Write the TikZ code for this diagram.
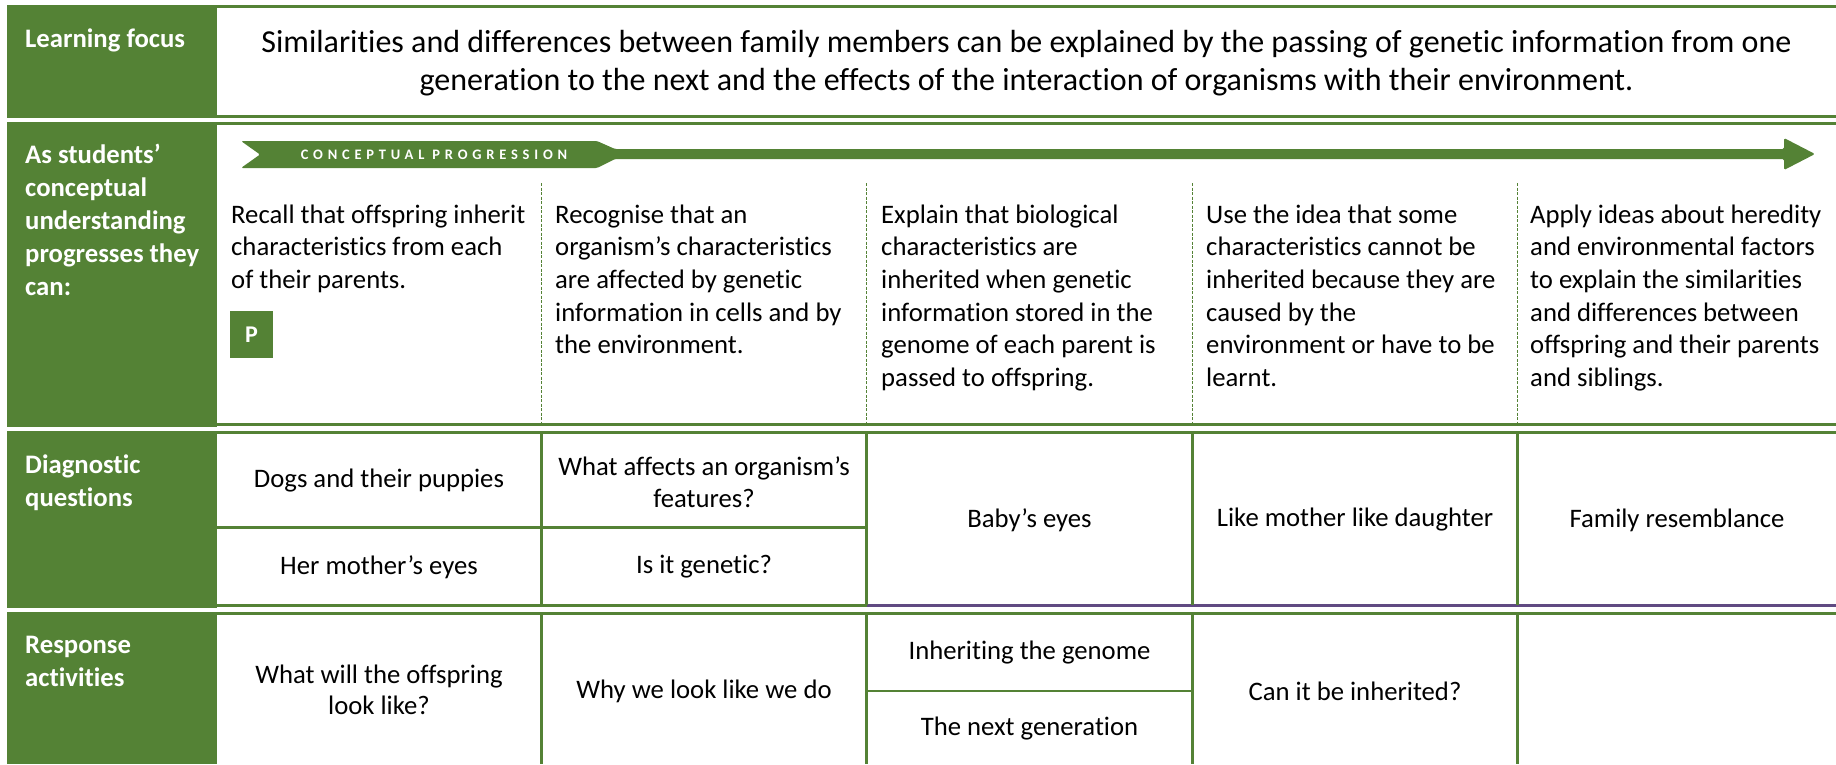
\documentclass[tikz,border=0pt]{standalone}
\usepackage{fontspec}
\setmainfont{Carlito}[Ligatures=NoCommon]
\definecolor{gr}{RGB}{84,130,53}
\definecolor{pu}{RGB}{96,74,130}
\newcommand\tstr[1]{\rule{0pt}{#1}}
\begin{document}
\begin{tikzpicture}[x=1pt,y=-1pt,
  rowrule/.style={gr, line width=2.7pt},
  dashrule/.style={gr, line width=1pt, dash pattern=on 3pt off 1.5pt},
  labtxt/.style={anchor=north west, inner sep=0pt, align=left, text=white, font=\bfseries\fontsize{26.7}{33}\selectfont},
  bodytxt/.style={anchor=north west, inner sep=0pt, align=left, font=\fontsize{26.7}{32.6}\selectfont},
  celltxt/.style={anchor=center, inner sep=0pt, align=center, font=\fontsize{26.7}{31.5}\selectfont},
  focustxt/.style={anchor=north, inner sep=0pt, align=center, font=\fontsize{32}{38}\selectfont},
  pbox/.style={fill=gr, text=white, minimum width=43pt, minimum height=47pt, inner sep=0pt, font=\bfseries\fontsize{24}{26}\selectfont},
  bannertxt/.style={text=white, inner sep=0pt, font={\bfseries\fontsize{14.5}{16}\selectfont\addfontfeature{LetterSpace=33}}}
]
\useasboundingbox (0,0) rectangle (1836,764);
\fill[white] (0,0) rectangle (1836,764);
% green label column blocks
\fill[gr] (7,5) rectangle (217,117.5);
\fill[gr] (7,121.5) rectangle (217,427);
\fill[gr] (7,431) rectangle (217,607.5);
\fill[gr] (7,612) rectangle (217,764);
% row rules
\draw[rowrule] (217,6.3) -- (1836,6.3);
\draw[rowrule] (217,116.3) -- (1836,116.3);
\draw[rowrule] (217,123.3) -- (1836,123.3);
\draw[rowrule] (217,424.3) -- (1836,424.3);
\draw[rowrule] (217,432.3) -- (1836,432.3);
\draw[rowrule] (217,605.3) -- (866.5,605.3);
\draw[pu, line width=2.7pt] (866.5,605.3) -- (1836,605.3);
\draw[rowrule] (217,613.5) -- (1836,613.5);
% column rules rows 3 and 4
\foreach \cx in {541.5,866.5,1192.5,1517.5}{
  \draw[rowrule] (\cx,432.3) -- (\cx,605.3);
  \draw[rowrule] (\cx,613.5) -- (\cx,764);
  \draw[dashrule] (\cx,183) -- (\cx,423);
}
\draw[rowrule] (217,527.7) -- (866.5,527.7);
\draw[rowrule] (866.5,691) -- (1192.5,691);
% conceptual progression banner and arrow
\fill[gr, rounded corners=1.5pt] (241,141) -- (597,141) -- (615,149) -- (1784,149) -- (1784,138) -- (1815,154) -- (1784,170) -- (1784,159) -- (615,159) -- (597,168) -- (241,168) -- (260,154.5) -- cycle;
\node[bannertxt] (cp) at (434,154.5) {CONCEPTUAL PROGRESSION};
% labels
\node[labtxt] (l1) at (25,23) {\tstr{24pt}Learning focus};
\node[labtxt] (l2) at (25,139) {\tstr{24pt}As students’\\conceptual\\understanding\\progresses they\\can:};
\node[labtxt] (l3) at (25,449) {\tstr{24pt}Diagnostic\\questions};
\node[labtxt] (l4) at (25,629) {\tstr{24pt}Response\\activities};
% learning focus
\node[focustxt] (focus) at (1026.5,22.7) {\tstr{30pt}Similarities and differences between family members can be explained by the passing of genetic information from one\\generation to the next and the effects of the interaction of organisms with their environment.};
% progression statements
\node[bodytxt] (s1) at (231,199) {\tstr{24pt}Recall that offspring inherit\\characteristics from each\\of their parents.};
\node[pbox] (p) at (251.5,334.5) {P};
\node[bodytxt] (s2) at (555,199) {\tstr{24pt}Recognise that an\\organism’s characteristics\\are affected by genetic\\information in cells and by\\the environment.};
\node[bodytxt] (s3) at (881,199) {\tstr{24pt}Explain that biological\\characteristics are\\inherited when genetic\\information stored in the\\genome of each parent is\\passed to offspring.};
\node[bodytxt] (s4) at (1206,199) {\tstr{24pt}Use the idea that some\\characteristics cannot be\\inherited because they are\\caused by the\\environment or have to be\\learnt.};
\node[bodytxt] (s5) at (1530,199) {\tstr{24pt}Apply ideas about heredity\\and environmental factors\\to explain the similarities\\and differences between\\offspring and their parents\\and siblings.};
% diagnostic questions
\node[celltxt] (d1) at (379,480.5) {Dogs and their puppies};
\node[celltxt] (d2) at (379,567) {Her mother’s eyes};
\node[celltxt] (d3) at (704,482) {What affects an organism’s\\features?};
\node[celltxt] (d4) at (704,567) {Is it genetic?};
\node[celltxt] (d5) at (1029.5,520) {Baby’s eyes};
\node[celltxt] (d6) at (1355,520) {Like mother like daughter};
\node[celltxt] (d7) at (1677,520) {Family resemblance};
% response activities
\node[celltxt] (r1) at (379,690) {What will the offspring\\look like?};
\node[celltxt] (r2) at (704,691) {Why we look like we do};
\node[celltxt] (r3) at (1029.5,653) {Inheriting the genome};
\node[celltxt] (r4) at (1029.5,729) {The next generation};
\node[celltxt] (r5) at (1355,691) {Can it be inherited?};
\end{tikzpicture}
\end{document}
